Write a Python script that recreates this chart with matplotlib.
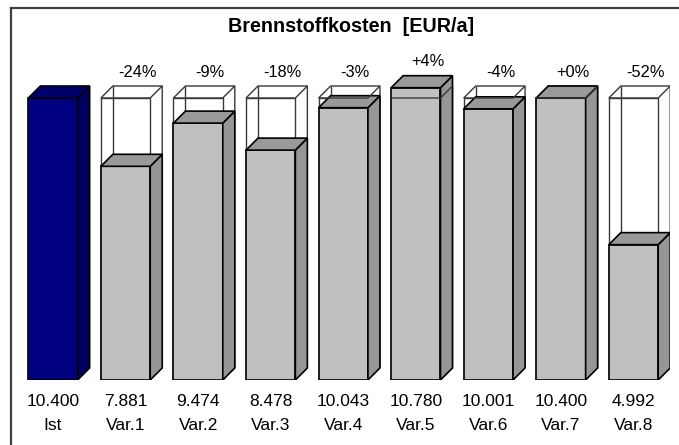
import matplotlib
matplotlib.use("Agg")
import matplotlib.pyplot as plt
from matplotlib.patches import Polygon
from matplotlib.lines import Line2D
import matplotlib.transforms as mtransforms

categories = ["Ist", "Var.1", "Var.2", "Var.3", "Var.4", "Var.5", "Var.6", "Var.7", "Var.8"]
values = [10400, 7881, 9474, 8478, 10043, 10780, 10001, 10400, 4992]
title = "Brennstoffkosten  [EUR/a]"

plt.rcParams['font.family'] = ['Liberation Sans', 'DejaVu Sans']

W, H = 679, 445
fig = plt.figure(figsize=(W / 100, H / 100), dpi=100)
# axes placement in pixels
L, R = 16.7, 669.8
B = 65.0
ymax = 12000
ppu = 282.0 / 10400  # pixels per unit
ax = fig.add_axes([L / W, B / H, (R - L) / W, ymax * ppu / H])
ax.set_xlim(-0.5, len(categories) - 0.5)
ax.set_ylim(0, ymax)
ax.axis('off')

width = 0.68
dx = 12.0 / ((R - L) / len(categories))  # depth in x data units
dy = 12.0 / ppu                           # depth in y data units

ist = values[0]
front_cols = ['#000080'] + ['#C0C0C0'] * (len(values) - 1)
side_cols = ['#000060'] + ['#969696'] * (len(values) - 1)
top_cols = ['#00006C'] + ['#999999'] * (len(values) - 1)

xs = list(range(len(categories)))
ax.bar(xs, values, width=width, color=front_cols, edgecolor='black',
       linewidth=1.2, zorder=3)

ghost_kw = dict(color='#383838', linewidth=1.0, solid_capstyle='butt')
for i, (x, v) in enumerate(zip(xs, values)):
    x0, x1 = x - width / 2, x + width / 2
    side = Polygon([(x1, 0), (x1 + dx, dy), (x1 + dx, v + dy), (x1, v)],
                   closed=True, facecolor=side_cols[i], edgecolor='black',
                   linewidth=1.2, zorder=3)
    top = Polygon([(x0, v), (x0 + dx, v + dy), (x1 + dx, v + dy), (x1, v)],
                  closed=True, facecolor=top_cols[i], edgecolor='black',
                  linewidth=1.2, zorder=3)
    ax.add_patch(side)
    ax.add_patch(top)
    if i > 0:
        # ghost box at reference height (behind the bar)
        g = ist
        ax.plot([x0, x0, x1, x1], [0, g, g, 0], zorder=2, **ghost_kw)
        ax.plot([x0, x0 + dx, x1 + dx, x1 + dx], [g, g + dy, g + dy, dy], zorder=2, **ghost_kw)
        ax.plot([x0 + dx, x0 + dx], [dy, g + dy], zorder=2, **ghost_kw)
        # visible ghost edges on the front/side planes
        ax.plot([x0, x1, x1 + dx], [g, g, g + dy], zorder=4, **ghost_kw)
        pct = round((v - ist) / ist * 100)
        lab = f"{pct:+d}%" if pct != 0 else "+0%"
        ax.text(x + dx, max(v, g) + dy + 510, lab, ha='center', va='center',
                fontsize=11.8, color='black', zorder=5)

tr = mtransforms.blended_transform_factory(ax.transData, fig.transFigure)
for x, v, c in zip(xs, values, categories):
    ax.text(x, 1 - 401.5 / H, f"{v:,}".replace(",", "."), transform=tr,
            ha='center', va='center', fontsize=12.5)
    ax.text(x, 1 - 425.0 / H, c, transform=tr, ha='center', va='center',
            fontsize=12.5)

fig.text(351 / W, 1 - 26.5 / H, title, ha='center', va='center',
         fontsize=14.2, fontweight='bold')

# frame
fig.add_artist(Line2D([10.5 / W, 10.5 / W], [0, 1 - 7.5 / H],
                      transform=fig.transFigure, color='#404040', linewidth=1.6))
fig.add_artist(Line2D([10.5 / W, 1], [1 - 7.5 / H, 1 - 7.5 / H],
                      transform=fig.transFigure, color='#404040', linewidth=1.6))

fig.savefig("out.png", dpi=100)
